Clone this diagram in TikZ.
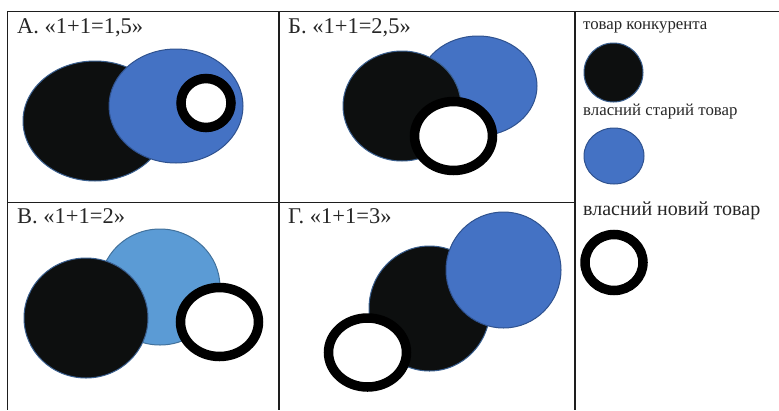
\documentclass[tikz,border=0pt]{standalone}
\usepackage{fontspec}
\setmainfont{Liberation Serif}
\definecolor{darkfill}{HTML}{0D0F0F}
\definecolor{darkedge}{HTML}{3A5F8F}
\definecolor{bluefill}{HTML}{4472C4}
\definecolor{blueedge}{HTML}{2F528F}
\definecolor{lightfill}{HTML}{5B9BD5}
\definecolor{lightedge}{HTML}{41719C}
\definecolor{gridline}{HTML}{1E1E1E}
\begin{document}
\begin{tikzpicture}[x=1pt,y=-1pt,
  gridrule/.style={draw=gridline,line width=1.5pt},
  rival/.style={fill=darkfill,draw=darkedge,line width=1pt},
  oldprod/.style={fill=bluefill,draw=blueedge,line width=1pt},
  oldlight/.style={fill=lightfill,draw=lightedge,line width=1pt},
  newprod/.style={fill=white,draw=black,line width=9.5pt},
  panellabel/.style={anchor=base west,inner sep=0pt,font=\fontsize{22.5}{26}\selectfont,text=black!85},
  legendsmall/.style={anchor=base west,inner sep=0pt,font=\fontsize{16.8}{20}\selectfont,text=black!85},
  legendbig/.style={anchor=base west,inner sep=0pt,font=\fontsize{20}{24}\selectfont,text=black!85}]
\useasboundingbox (0,0) rectangle (779,410);
% grid
\coordinate (tl) at (7.3,11.5);
\coordinate (tr) at (779,11.5);
\coordinate (bl) at (7.3,410);
\coordinate (m1t) at (279,11.5);
\coordinate (m1b) at (279,410);
\coordinate (m2t) at (575,11.5);
\coordinate (m2b) at (575,410);
\coordinate (hl) at (7.3,202.3);
\coordinate (hr) at (575,202.3);
\draw[gridrule] (tl) -- (tr);
\draw[gridrule] (tl) -- (bl);
\draw[gridrule] (m1t) -- (m1b);
\draw[gridrule] (m2t) -- (m2b);
\draw[gridrule] (hl) -- (hr);
% labels
\node[panellabel] (la) at (17,33.5) {А. «1+1=1,5»};
\node[panellabel] (lb) at (288,33.5) {Б. «1+1=2,5»};
\node[panellabel] (lv) at (17,223.5) {В. «1+1=2»};
\node[panellabel] (lg) at (288,223.5) {Г. «1+1=3»};
% panel A
\path[rival] (95,121) ellipse (72 and 60);
\path[oldprod] (176,106) ellipse (67 and 57);
\path[newprod] (206,103) ellipse (25 and 24.5);
% panel B
\path[oldprod] (478,86) ellipse (59 and 50);
\path[rival] (402,106) ellipse (59 and 55);
\path[newprod] (453.5,136) ellipse (39 and 34.5);
% panel V
\path[oldlight] (160,287) ellipse (60 and 58);
\path[rival] (86,318) ellipse (62 and 60);
\path[newprod] (219.5,322) ellipse (39 and 34.5);
% panel G
\path[rival] (429.5,308.5) ellipse (60.5 and 62.5);
\path[oldprod] (503.5,270) ellipse (57.5 and 58);
\path[newprod] (367.5,352.5) ellipse (39 and 34.5);
% legend
\node[legendsmall] (t1) at (583,29) {товар конкурента};
\path[rival] (613.5,72.5) ellipse (29.5 and 29.5);
\node[legendsmall] (t2) at (583,115) {власний старий товар};
\path[oldprod] (614,156) ellipse (30 and 28);
\node[legendbig] (t3) at (583,215) {власний новий товар};
\path[newprod] (614,262.5) ellipse (29 and 28);
\end{tikzpicture}
\end{document}
